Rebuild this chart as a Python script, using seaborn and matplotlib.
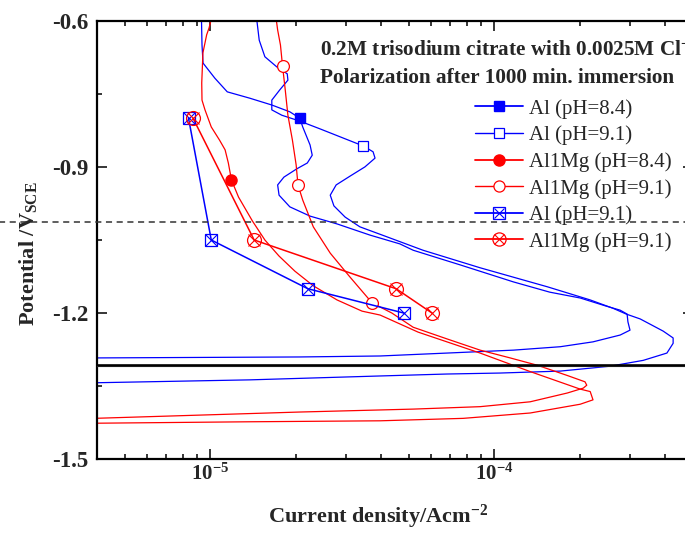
import matplotlib
matplotlib.use('Agg')
import matplotlib.pyplot as plt
import numpy as np
import seaborn as sns
from matplotlib.lines import Line2D
from matplotlib.ticker import FixedLocator, FuncFormatter, LogLocator, NullFormatter

# polarization curves, current density (A/cm2) and potential (V vs SCE)
al84_i = [9.33e-6, 9.37e-6, 9.45e-6, 1.04e-5, 1.15e-5, 1.38e-5, 1.65e-5, 1.91e-5, 2.07e-5,
          2.12e-5, 2.25e-5, 2.29e-5, 2.20e-5, 2.02e-5, 1.82e-5, 1.73e-5, 1.75e-5, 1.91e-5,
          2.25e-5, 2.80e-5, 3.66e-5, 4.66e-5, 5.19e-5, 7.59e-5, 1.17e-4, 1.57e-4, 2.01e-4,
          2.46e-4, 2.78e-4, 2.94e-4, 2.96e-4, 3.01e-4, 2.78e-4, 2.23e-4, 1.71e-4, 1.17e-4,
          6.83e-5, 3.97e-5, 2.07e-5, 3.9e-6]
al84_v = [-0.597, -0.650, -0.687, -0.718, -0.746, -0.759, -0.773, -0.787, -0.800,
          -0.818, -0.855, -0.876, -0.892, -0.904, -0.921, -0.937, -0.958, -0.982,
          -1.001, -1.017, -1.040, -1.058, -1.071, -1.101, -1.136, -1.157, -1.169,
          -1.185, -1.194, -1.202, -1.218, -1.235, -1.245, -1.259, -1.269, -1.276,
          -1.282, -1.288, -1.290, -1.292]
al84_mark = [8]

al91_i = [1.46e-5, 1.49e-5, 1.56e-5, 1.72e-5, 1.87e-5, 1.88e-5, 1.76e-5, 1.65e-5, 1.65e-5,
          1.79e-5, 2.07e-5, 2.44e-5, 3.46e-5, 3.75e-5, 3.81e-5, 3.51e-5, 3.11e-5, 2.78e-5,
          2.65e-5, 2.73e-5, 2.99e-5, 3.37e-5, 4.13e-5, 5.62e-5, 8.93e-5, 1.54e-4, 2.18e-4,
          2.62e-4, 2.92e-4, 3.27e-4, 3.94e-4, 4.27e-4, 4.27e-4, 4.06e-4, 3.35e-4, 2.56e-4,
          1.71e-4, 1.05e-4, 6.83e-5, 3.97e-5, 1.38e-5, 3.9e-6]
al91_v = [-0.597, -0.640, -0.674, -0.695, -0.709, -0.722, -0.742, -0.763, -0.783,
          -0.794, -0.806, -0.822, -0.857, -0.869, -0.882, -0.900, -0.919, -0.937,
          -0.958, -0.980, -1.003, -1.023, -1.042, -1.071, -1.107, -1.146, -1.173,
          -1.190, -1.202, -1.212, -1.237, -1.251, -1.262, -1.282, -1.297, -1.309,
          -1.319, -1.323, -1.325, -1.329, -1.337, -1.343]
al91_mark = [12]

almg84_i = [1.01e-5, 9.92e-6, 9.73e-6, 9.44e-6, 9.35e-6, 9.37e-6, 9.60e-6, 1.01e-5, 1.08e-5,
            1.13e-5, 1.16e-5, 1.19e-5, 1.26e-5, 1.41e-5, 1.56e-5, 1.75e-5, 1.99e-5, 2.31e-5,
            2.80e-5, 3.43e-5, 3.97e-5, 5.40e-5, 8.93e-5, 1.34e-4, 2.01e-4, 2.18e-4, 2.23e-4,
            2.01e-4, 1.34e-4, 7.78e-5, 3.97e-5, 1.38e-5, 3.9e-6]
almg84_v = [-0.597, -0.615, -0.629, -0.666, -0.728, -0.763, -0.783, -0.818, -0.845,
            -0.865, -0.892, -0.927, -0.962, -1.011, -1.050, -1.083, -1.114, -1.144,
            -1.173, -1.196, -1.204, -1.239, -1.282, -1.320, -1.356, -1.361, -1.378,
            -1.387, -1.405, -1.416, -1.421, -1.423, -1.426]
almg84_mark = [11]

almg91_i = [1.71e-5, 1.73e-5, 1.77e-5, 1.80e-5, 1.84e-5, 1.88e-5, 1.95e-5, 2.01e-5, 2.04e-5,
            2.12e-5, 2.31e-5, 2.65e-5, 3.11e-5, 3.72e-5, 4.37e-5, 5.19e-5, 6.83e-5, 8.93e-5,
            1.14e-4, 1.42e-4, 1.81e-4, 2.09e-4, 2.12e-4, 2.06e-4, 1.81e-4, 1.34e-4, 8.93e-5,
            5.19e-5, 2.07e-5, 3.9e-6]
almg91_v = [-0.597, -0.619, -0.650, -0.693, -0.742, -0.794, -0.845, -0.896, -0.937,
            -0.968, -1.023, -1.077, -1.126, -1.179, -1.200, -1.229, -1.253, -1.276,
            -1.292, -1.307, -1.328, -1.341, -1.348, -1.354, -1.364, -1.382, -1.392,
            -1.397, -1.403, -1.416]
almg91_mark = [3, 8, 13]

# point series joined by straight lines
pts_v = [-0.80, -1.05, -1.15, -1.20]
pts_al_i = [8.4e-6, 1.01e-5, 2.21e-5, 4.82e-5]
pts_almg_i = [8.71e-6, 1.43e-5, 4.52e-5, 6.05e-5]

labels = ['Al (pH=8.4)', 'Al (pH=9.1)', 'Al1Mg (pH=8.4)', 'Al1Mg (pH=9.1)',
          'Al (pH=9.1)', 'Al1Mg (pH=9.1)']

e_dashed = -1.013
e_solid = -1.306

sns.set_style('ticks')
plt.rcParams['font.family'] = ['Liberation Serif', 'DejaVu Serif']
plt.rcParams['mathtext.fontset'] = 'custom'
plt.rcParams['mathtext.rm'] = 'Liberation Serif'
plt.rcParams['mathtext.bf'] = 'Liberation Serif:bold'
plt.rcParams['mathtext.it'] = 'Liberation Serif:italic'
plt.rcParams['axes.unicode_minus'] = False

BLUE = '#0000ff'
RED = '#ff0000'

fig = plt.figure(figsize=(6.85, 5.43), dpi=100)
ax = fig.add_axes([97 / 685, 83.7 / 543, 595.6 / 685, 438.6 / 543])
ax.set_xscale('log')

curves = [(al84_i, al84_v, BLUE), (al91_i, al91_v, BLUE),
          (almg84_i, almg84_v, RED), (almg91_i, almg91_v, RED)]
for ci, cv, col in curves:
    sns.lineplot(x=ci, y=cv, sort=False, estimator=None, color=col, lw=0.9, ax=ax)

def pick(arr, idx):
    return np.array(arr)[idx]

ax.plot(pick(al84_i, al84_mark), pick(al84_v, al84_mark), ls='none', marker='s',
        ms=6.5, color=BLUE, mec=BLUE)
ax.plot(pick(al91_i, al91_mark), pick(al91_v, al91_mark), ls='none', marker='s',
        ms=7, mfc='white', mec=BLUE, mew=0.9)
ax.plot(pick(almg84_i, almg84_mark), pick(almg84_v, almg84_mark), ls='none', marker='o',
        ms=8, color=RED, mec=RED)
ax.plot(pick(almg91_i, almg91_mark), pick(almg91_v, almg91_mark), ls='none', marker='o',
        ms=8.5, mfc='white', mec=RED, mew=0.9)

sns.lineplot(x=pts_al_i, y=pts_v, sort=False, estimator=None, color=BLUE, lw=1.1, ax=ax)
sns.lineplot(x=pts_almg_i, y=pts_v, sort=False, estimator=None, color=RED, lw=1.1, ax=ax)
ax.plot(pts_al_i, pts_v, ls='none', marker='s', ms=9, mfc='none', mec=BLUE, mew=0.9)
ax.plot(pts_al_i, pts_v, ls='none', marker='x', ms=8, mec=BLUE, mew=0.8)
ax.plot(pts_almg_i, pts_v, ls='none', marker='o', ms=10, mfc='none', mec=RED, mew=0.9)
ax.plot(pts_almg_i, pts_v, ls='none', marker='x', ms=8, mec=RED, mew=0.8)

# reference potentials
ax.axhline(e_dashed, xmin=-0.17, xmax=1, clip_on=False, color='0.2', lw=1.1,
           ls=(0, (4, 3)), zorder=6)
ax.axhline(e_solid - 0.0035, color='0.6', lw=0.9, zorder=6)
ax.axhline(e_solid, color='black', lw=1.9, zorder=7)

ax.set_xlim(4e-6, 5e-4)
ax.set_ylim(-1.5, -0.6)
ax.yaxis.set_major_locator(FixedLocator([-1.5, -1.2, -0.9, -0.6]))
ax.yaxis.set_minor_locator(FixedLocator([-1.35, -1.05, -0.75]))
ax.yaxis.set_major_formatter(FuncFormatter(lambda v, p: f'{v:.1f}'))
ax.xaxis.set_major_locator(LogLocator(base=10, numticks=10))
ax.xaxis.set_minor_locator(LogLocator(base=10, subs=np.arange(2, 10), numticks=20))
ax.xaxis.set_major_formatter(FuncFormatter(
    lambda v, p: r'$\mathbf{10^{%d}}$' % round(np.log10(v))))
ax.xaxis.set_minor_formatter(NullFormatter())

ax.tick_params(which='both', direction='in', top=True, right=True, width=1.1,
               color='black')
ax.tick_params(which='major', length=7)
ax.tick_params(which='minor', length=3.5)
ax.tick_params(axis='y', pad=6, labelsize=16.5)
ax.tick_params(axis='x', pad=3, labelsize=15)
for lab in ax.get_yticklabels():
    lab.set_fontweight('bold')
for sp in ax.spines.values():
    sp.set_linewidth(1.6)
    sp.set_color('black')

ax.set_xlabel(r'Current density/Acm$^{\mathbf{-2}}$', fontsize=16, fontweight='bold')
ax.xaxis.set_label_coords(0.472, -0.1316)
ax.xaxis.label.set_va('center')
ax.set_ylabel(r'Potential /V$_{\mathbf{SCE}}$', fontsize=16, fontweight='bold')
ax.yaxis.set_label_coords(-0.116, 0.468)
ax.yaxis.label.set_va('center')

fig.text(320 / 685, 1 - 50 / 543, r'0.2M trisodium citrate with 0.0025M Cl$^{\mathbf{-}}$',
         fontsize=15.3, fontweight='bold', va='center')
fig.text(320 / 685, 1 - 78 / 543, 'Polarization after 1000 min. immersion',
         fontsize=15.3, fontweight='bold', va='center')

handles = [
    Line2D([], [], color=BLUE, lw=1.3, marker='s', ms=7, mec=BLUE),
    Line2D([], [], color=BLUE, lw=1.0, marker='s', ms=7, mfc='white', mec=BLUE, mew=0.9),
    Line2D([], [], color=RED, lw=1.3, marker='o', ms=8, mec=RED),
    Line2D([], [], color=RED, lw=1.0, marker='o', ms=8, mfc='white', mec=RED, mew=0.9),
    (Line2D([], [], color=BLUE, lw=1.3, marker='s', ms=8.5, mfc='none', mec=BLUE, mew=0.9),
     Line2D([], [], ls='none', marker='x', ms=7.5, mec=BLUE, mew=0.8)),
    (Line2D([], [], color=RED, lw=1.3, marker='o', ms=9.5, mfc='none', mec=RED, mew=0.9),
     Line2D([], [], ls='none', marker='x', ms=7.5, mec=RED, mew=0.8)),
]
ax.legend(handles, labels, loc='upper left', bbox_to_anchor=(475 / 685, 1 - 99 / 543),
          bbox_transform=fig.transFigure, frameon=False, fontsize=15,
          handlelength=2.3, handletextpad=0.3, labelspacing=0.33,
          borderpad=0, borderaxespad=0)

fig.savefig('out.png', dpi=100)
plt.close(fig)
